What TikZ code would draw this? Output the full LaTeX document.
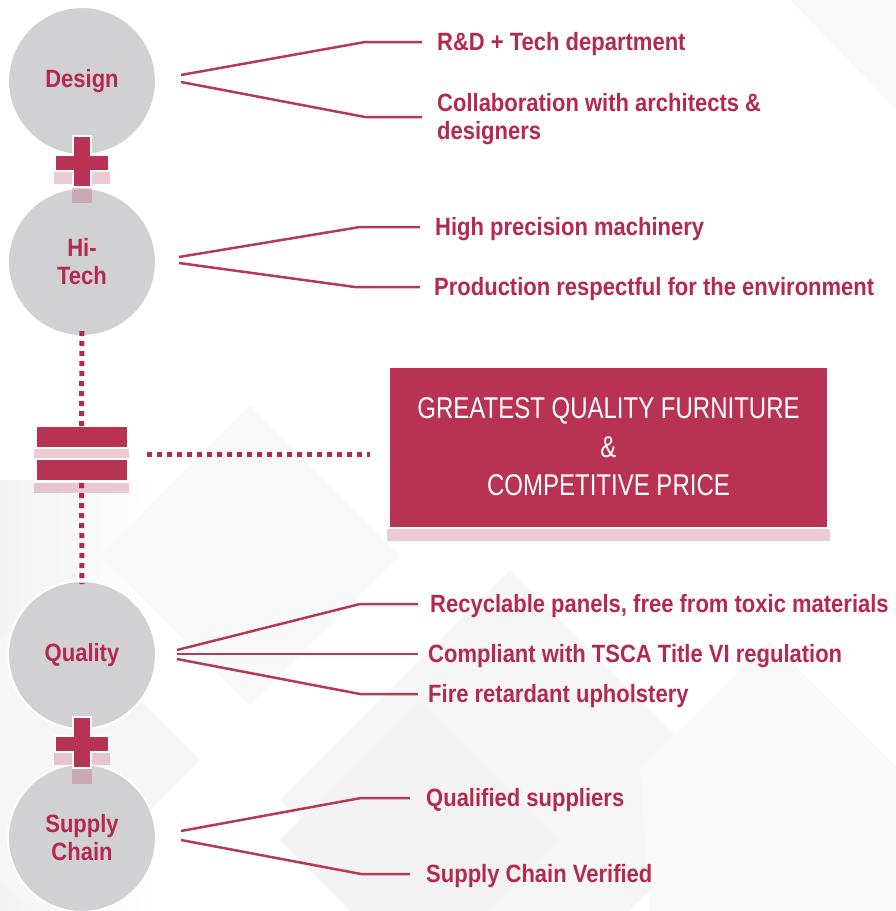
\documentclass[tikz,border=0pt]{standalone}
\usepackage{fontspec}
\setmainfont{Liberation Sans}[FakeStretch=0.88]
\newfontfamily\boxfont{Liberation Sans}[FakeStretch=0.8]
\usetikzlibrary{calc}
\definecolor{crim}{HTML}{B5294E}
\definecolor{lin}{HTML}{B53A57}
\definecolor{boxc}{HTML}{B83353}
\definecolor{circ}{HTML}{D1D1D3}
\definecolor{bga}{HTML}{F6F6F6}
\definecolor{bgb}{HTML}{F3F3F3}
\definecolor{bgc}{HTML}{F9F9F9}
\begin{document}
\begin{tikzpicture}[x=1pt,y=-1pt,
  bubble/.style={circle, fill=circ, draw=white, line width=2pt, minimum size=148pt, inner sep=0pt,
    font=\fontsize{25}{28}\selectfont\bfseries, text=crim, align=center},
  lbl/.style={anchor=west, inner sep=0pt, font=\fontsize{25}{28}\selectfont\bfseries, text=crim, align=left},
  conn/.style={draw=lin, line width=2.5pt},
  dots/.style={draw=crim, line width=5pt, dash pattern=on 5pt off 5pt},
  pinksh/.style={fill=crim, opacity=0.24},
  pics/plussign/.style={code={
    \fill[pinksh] (-28,4) rectangle (28,22);
    \fill[pinksh] (-10,26) rectangle (10,41);
    \fill[white] (-28,-8) rectangle (28,10);
    \fill[white] (-10,-27) rectangle (10,26);
    \fill[boxc] (-26,-6) rectangle (26,8);
    \fill[boxc] (-8,-25) rectangle (8,24);
  }}
]
\useasboundingbox (0,0) rectangle (896,911);
% background
\fill[white] (0,0) rectangle (896,911);
\fill[bgc] (790,0) -- (896,0) -- (896,110) -- cycle;
\shade[left color=bgb, right color=white] (0,480) rectangle (160,911);
\fill[bgc] (250,405) -- (400,555) -- (250,705) -- (100,555) -- cycle;
\fill[bga] (510,570) -- (740,800) -- (510,1030) -- (280,800) -- cycle;
\fill[bgb] (420,700) -- (560,840) -- (420,980) -- (280,840) -- cycle;
\fill[bgc] (770,640) -- (896,766) -- (896,911) -- (650,911) -- (640,770) -- cycle;
\fill[bga] (40,600) -- (200,760) -- (40,920) -- (-120,760) -- cycle;

% circles
\node[bubble] (des) at (82,81) {Design};
\node[bubble] (ht) at (82,262) {Hi-\\Tech};
\node[bubble] (ql) at (82,655) {Quality};
\node[bubble] (sc) at (82,838) {Supply\\Chain};

\pic at (82,162) {plussign};
\pic at (82,743) {plussign};

% equals sign
\node[inner sep=0pt, minimum width=95pt, minimum height=68pt] (eq) at (81.5,459) {};
\fill[white] (35,425) rectangle (129,449);
\fill[boxc] (37,427) rectangle (127,447);
\fill[pinksh] (34,449) rectangle (129,458);
\fill[white] (35,458) rectangle (129,482);
\fill[boxc] (37,460) rectangle (127,480);
\fill[pinksh] (34,483) rectangle (129,493);

% main box
\fill[pinksh] (387,529) rectangle (830,541);
\node[draw=white, line width=2pt, fill=boxc, minimum width=439pt, minimum height=161pt, inner sep=0pt,
  font=\boxfont\fontsize{30}{38.5}\selectfont, text=white, align=center] (box) at (608.5,447)
  {GREATEST QUALITY FURNITURE\\\&\\COMPETITIVE PRICE};

% dotted connectors
\draw[dots] ([yshift=6]ht.south) -- ([yshift=-6]eq.north);
\draw[dots] ([yshift=10]eq.south) -- ([yshift=-4]ql.north);
\draw[dots] ([shift={(18,-5)}]eq.east) -- ([shift={(-18,7)}]box.west);

% labels
\node[lbl] (t1) at (437,44) {R\&D + Tech department};
\node[lbl] (t2) at (437,119) {Collaboration with architects \&\\designers};
\node[lbl] (t3) at (435,229) {High precision machinery};
\node[lbl] (t4) at (434,289) {Production respectful for the environment};
\node[lbl] (t5) at (430,606) {Recyclable panels, free from toxic materials};
\node[lbl] (t6) at (428,656) {Compliant with TSCA Title VI regulation};
\node[lbl] (t7) at (428,696) {Fire retardant upholstery};
\node[lbl] (t8) at (426,800) {Qualified suppliers};
\node[lbl] (t9) at (426,876) {Supply Chain Verified};

% connectors
\draw[conn] ([shift={(24,-6)}]des.east) -- ([shift={(-72,-2)}]t1.west) -- ([shift={(-15,-2)}]t1.west);
\draw[conn] ([shift={(24,1)}]des.east) -- ([shift={(-72,-2)}]t2.west) -- ([shift={(-15,-2)}]t2.west);
\draw[conn] ([shift={(22,-5)}]ht.east) -- ([shift={(-75,-2)}]t3.west) -- ([shift={(-15,-2)}]t3.west);
\draw[conn] ([shift={(22,1)}]ht.east) -- ([shift={(-79,-2)}]t4.west) -- ([shift={(-14,-2)}]t4.west);
\draw[conn] ([shift={(20,-5)}]ql.east) -- ([shift={(-70,-2)}]t5.west) -- ([shift={(-12,-2)}]t5.west);
\draw[conn] ([shift={(20,-1)}]ql.east) -- ([shift={(-10,-2)}]t6.west);
\draw[conn] ([shift={(20,4)}]ql.east) -- ([shift={(-68,-2)}]t7.west) -- ([shift={(-10,-2)}]t7.west);
\draw[conn] ([shift={(24,-7)}]sc.east) -- ([shift={(-65,-2)}]t8.west) -- ([shift={(-16,-2)}]t8.west);
\draw[conn] ([shift={(24,2)}]sc.east) -- ([shift={(-65,-2)}]t9.west) -- ([shift={(-16,-2)}]t9.west);
\end{tikzpicture}
\end{document}
